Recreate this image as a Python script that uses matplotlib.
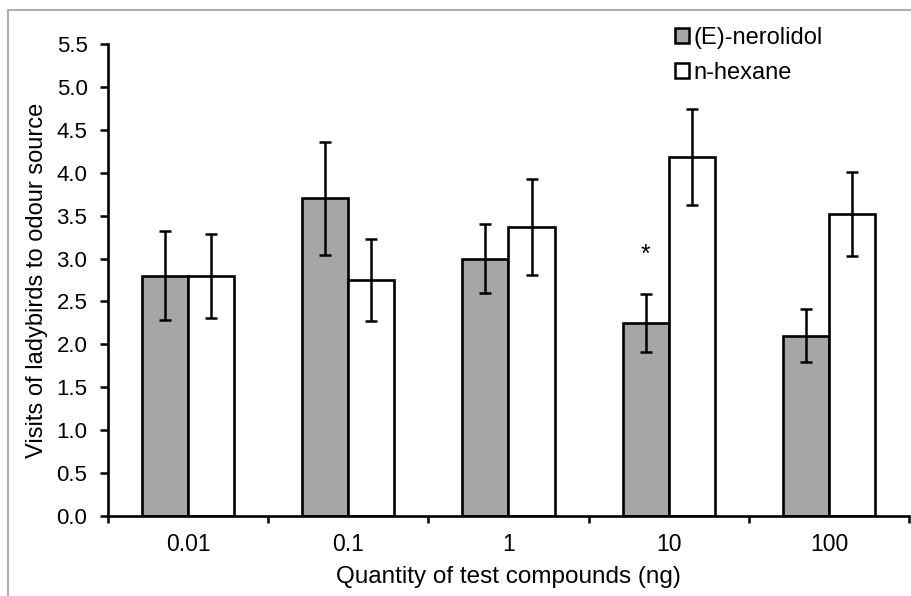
import numpy as np
import matplotlib.pyplot as plt
from matplotlib.patches import Rectangle, Patch

plt.rcParams['font.family'] = ['Liberation Sans', 'DejaVu Sans']

categories = ['0.01', '0.1', '1', '10', '100']
nerolidol = [2.80, 3.70, 3.00, 2.25, 2.10]
nerolidol_err = [0.52, 0.66, 0.40, 0.34, 0.31]
hexane = [2.80, 2.75, 3.37, 4.18, 3.52]
hexane_err = [0.49, 0.48, 0.56, 0.56, 0.49]

fig = plt.figure(figsize=(9.12, 5.96), dpi=100)
ax = fig.add_axes([108 / 912, 1 - 516 / 596, 801 / 912, 472 / 596])

# thin grey frame around the chart area
fig.patches.append(Rectangle((8 / 912, -0.1), 1.2, 1 - 10 / 596 + 0.1,
                             transform=fig.transFigure, fill=False,
                             edgecolor='#b0b0b0', lw=1.5))

x = np.arange(len(categories))
w = 0.2875
ekw = dict(elinewidth=1.8, capthick=1.8, ecolor='black')
ax.bar(x - w / 2, nerolidol, w, yerr=nerolidol_err, color='#a6a6a6',
       edgecolor='black', lw=1.9, capsize=4.5, error_kw=ekw, zorder=2)
ax.bar(x + w / 2, hexane, w, yerr=hexane_err, color='white',
       edgecolor='black', lw=1.9, capsize=4.5, error_kw=ekw, zorder=2)

ax.text(3 - w / 2, 2.96, '*', ha='center', va='baseline', fontsize=18)

ax.set_xlim(-0.5, 4.5)
ax.set_ylim(0, 5.5)
ax.set_yticks(np.arange(0, 5.51, 0.5))
ax.set_yticklabels(['%.1f' % v for v in np.arange(0, 5.51, 0.5)])
ax.set_xticks(x)
ax.set_xticklabels(categories)
ax.set_xticks(np.arange(-0.5, 4.6, 1), minor=True)
ax.tick_params(axis='x', which='major', length=0, pad=12, labelsize=16.5)
ax.tick_params(axis='x', which='minor', length=5, width=1.8, direction='out')
ax.tick_params(axis='y', length=5.8, width=1.8, direction='out', labelsize=16, pad=9)

for s in ['top', 'right']:
    ax.spines[s].set_visible(False)
for s in ['left', 'bottom']:
    ax.spines[s].set_linewidth(1.9)

ax.set_ylabel('Visits of ladybirds to odour source', fontsize=17)
ax.yaxis.set_label_coords(-0.075, 0.5)
ax.set_xlabel('Quantity of test compounds (ng)', fontsize=17.5)
ax.xaxis.set_label_coords(0.5, -0.106)

handles = [Patch(facecolor='#a6a6a6', edgecolor='black', lw=1.8, label='(E)-nerolidol'),
           Patch(facecolor='white', edgecolor='black', lw=1.8, label='n-hexane')]
fig.legend(handles=handles, loc='upper left', bbox_to_anchor=(675 / 912, 1 - 27 / 596),
           frameon=False, fontsize=17, handlelength=0.6, handleheight=0.6,
           handletextpad=0.2, labelspacing=0.56, borderpad=0, borderaxespad=0)

fig.savefig('out.png', dpi=100)
